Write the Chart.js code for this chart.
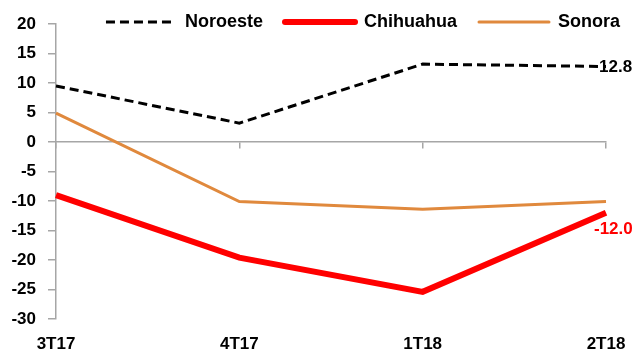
<!DOCTYPE html>
<html><head><meta charset="utf-8">
<script src="https://cdn.jsdelivr.net/npm/chart.js@4"></script>
<style>html,body{margin:0;padding:0;background:#fff}#wrap{width:636px;height:356px}</style>
</head><body><div id="wrap"><canvas id="c"></canvas></div>
<script>
const categories = ["3T17", "4T17", "1T18", "2T18"];
const noroeste = [9.5, 3.2, 13.2, 12.8];
const chihuahua = [-9.0, -19.6, -25.4, -12.0];
const sonora = [4.9, -10.1, -11.4, -10.1];
const yTicks = [20, 15, 10, 5, 0, -5, -10, -15, -20, -25, -30];

const FONT = "'Liberation Sans', Arial, sans-serif";
const GRAY = '#a6a6a6';
const LEG_PAD = 22;
const PAD_R = 16 - LEG_PAD;

const endLabels = {
  id: 'endLabels',
  afterDatasetsDraw(chart) {
    const ctx = chart.ctx;
    ctx.save();
    ctx.font = 'bold 17px ' + FONT;
    ctx.textBaseline = 'middle';
    ctx.textAlign = 'left';
    const m0 = chart.getDatasetMeta(0);
    const p0 = m0.data[m0.data.length - 1];
    ctx.fillStyle = '#000';
    ctx.fillText(noroeste[noroeste.length - 1].toFixed(1), p0.x - 7, p0.y + 1);
    const m1 = chart.getDatasetMeta(1);
    const p1 = m1.data[m1.data.length - 1];
    ctx.fillStyle = '#ff0000';
    ctx.fillText(chihuahua[chihuahua.length - 1].toFixed(1), p1.x - 12, p1.y + 17);
    ctx.restore();
  }
};

// let the legend draw past its (tight) layout box so the text is not clipped
const legendRoom = {
  id: 'legendRoom',
  afterLayout(chart) {
    const l = chart.legend;
    if (l) { l.bottom += 14; l.height += 14; l.top -= 0; }
  }
};

new Chart(document.getElementById('c'), {
  type: 'line',
  data: {
    labels: categories,
    datasets: [
      { label: 'Noroeste', data: noroeste, borderColor: '#000', backgroundColor: '#000', borderWidth: 3, borderDash: [9, 5], pointRadius: 0, tension: 0 },
      { label: 'Chihuahua', data: chihuahua, borderColor: '#ff0000', backgroundColor: '#ff0000', borderWidth: 6, pointRadius: 0, tension: 0 },
      { label: 'Sonora', data: sonora, borderColor: '#e0893d', backgroundColor: '#e0893d', borderWidth: 3, pointRadius: 0, tension: 0 }
    ]
  },
  options: {
    responsive: true,
    maintainAspectRatio: false,
    animation: false,
    layout: { padding: { top: -9, right: PAD_R, left: 0, bottom: 0 } },
    plugins: {
      legend: {
        position: 'top',
        align: 'end',
        maxHeight: 33,
        labels: {
          usePointStyle: true,
          pointStyle: 'line',
          pointStyleWidth: 70,
          boxHeight: 18,
          padding: LEG_PAD,
          color: '#000',
          font: { family: FONT, size: 18, weight: 'bold' },
          generateLabels(chart) {
            const items = Chart.defaults.plugins.legend.labels.generateLabels(chart);
            items.forEach(it => {
              const ds = chart.data.datasets[it.datasetIndex];
              it.lineDash = ds.borderDash || [];
              it.lineWidth = ds.borderWidth;
              it.strokeStyle = ds.borderColor;
              it.pointStyle = 'line';
              it.lineCap = ds.borderDash ? 'butt' : 'round';
            });
            return items;
          }
        }
      },
      tooltip: { enabled: false }
    },
    scales: {
      x: {
        type: 'category',
        position: 'bottom',
        offset: false,
        grid: { display: false },
        border: { display: false },
        ticks: { color: '#000', font: { family: FONT, size: 17, weight: 'bold' }, maxRotation: 0, autoSkip: false, padding: 7 },
        afterFit(s) { s.height = 37; s.paddingRight = 30; }
      },
      x0: {
        type: 'category',
        axis: 'x',
        labels: categories,
        position: { y: 0 },
        offset: false,
        grid: { display: true, drawOnChartArea: false, drawTicks: true, tickLength: 6, color: GRAY, lineWidth: 1.5 },
        border: { display: true, color: GRAY, width: 1.5 },
        ticks: { display: false }
      },
      y: {
        min: -30, max: 20,
        afterBuildTicks(s) { s.ticks = yTicks.map(v => ({ value: v })); },
        grid: { display: true, drawOnChartArea: false, drawTicks: true, tickLength: 8, color: GRAY, lineWidth: 1.5 },
        border: { display: true, color: GRAY, width: 1.5 },
        ticks: { color: '#000', font: { family: FONT, size: 17, weight: 'bold' }, padding: 12 },
        afterFit(s) { s.width = 56; }
      }
    }
  },
  plugins: [endLabels, legendRoom]
});
</script></body></html>
